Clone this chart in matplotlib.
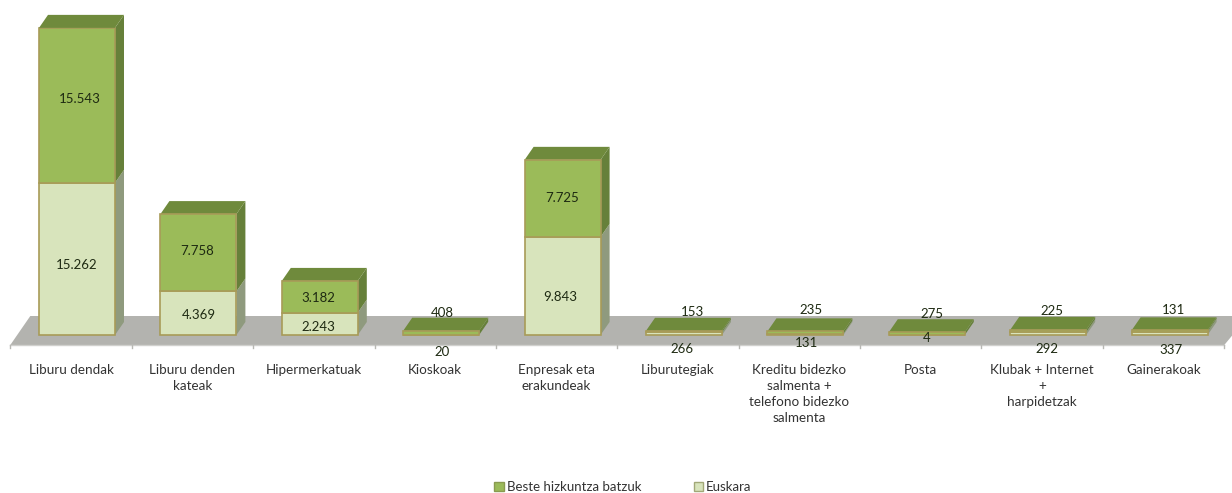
import matplotlib
matplotlib.use("Agg")
import matplotlib.pyplot as plt
from matplotlib.patches import Patch

categories = ["Liburu dendak", "Liburu denden\nkateak", "Hipermerkatuak", "Kioskoak",
              "Enpresak eta\nerakundeak", "Liburutegiak",
              "Kreditu bidezko\nsalmenta +\ntelefono bidezko\nsalmenta", "Posta",
              "Klubak + Internet\n+\nharpidetzak", "Gainerakoak"]
euskara = [15262, 4369, 2243, 20, 9843, 266, 131, 4, 292, 337]
beste = [15543, 7758, 3182, 408, 7725, 153, 235, 275, 225, 131]

# label nudges in pixels (dx, dy) relative to default placement
nudge_beste = [(3, -6), (-1, -2), (-1, 1), (1, 1), (0, 0), (8, 0), (6, -2), (5, 2), (4, -1), (4, -2)]
nudge_eus = [(0, 6), (0, 2), (-1, 3), (1, 3), (-2, 11), (-2, 0), (1, -6), (0, -11), (-1, 0), (1, 1)]

W, H = 1232, 493
PX_X = 121.4      # px per category
PX_Y = 0.00997    # px per unit
X0, Y0 = 71, 335  # px of category 0 and of value 0
DX, DY = 9, 13    # 3D depth
SHIFT, BAR = 6, 76

plt.rcParams["font.family"] = ["Lato", "DejaVu Sans"]
fig = plt.figure(figsize=(W / 100, H / 100), dpi=100)
ax = fig.add_axes([0, 0, 1, 1])
ax.set_xlim(-X0 / PX_X, (W - X0) / PX_X)
ax.set_ylim(-(H - Y0) / PX_Y, Y0 / PX_Y)
ax.axis("off")

dx, dy = DX / PX_X, DY / PX_Y
shift, bw = SHIFT / PX_X, BAR / PX_X
nudge = lambda x, y, n: (x + n[0] / PX_X, y - n[1] / PX_Y)

# floor
fy0, fy1 = -10 / PX_Y, 19 / PX_Y
xl, xr = -0.5, 9.5
skew = 20 / PX_X
ax.fill([xl, xl + skew, xr + skew * 1.2, xr], [fy0, fy1, fy1, fy0], color="#b3b3af", lw=0, zorder=1)
ax.plot([xl, xr], [fy0, fy0], color="#d0d0cd", lw=1, zorder=1)
for k in range(11):
    ax.plot([xl + k, xl + k], [fy0, fy0 - 3 / PX_Y], color="#b8b8b4", lw=1, zorder=1)

EDGE = "#a89b58"
def bar_3d(i, b, h, front, side, z):
    l = i + shift - bw / 2
    r = i + shift + bw / 2
    ax.fill([r, r + dx, r + dx, r], [b, b + dy, b + h + dy, b + h], color=side, lw=0, zorder=z)
    ax.fill([l, r, r, l], [b, b, b + h, b + h], facecolor=front, edgecolor=EDGE, lw=1.2, zorder=z + 1)

for i in range(len(categories)):
    e, o = euskara[i], beste[i]
    bar_3d(i, 0, e, "#d8e4bc", "#8f9a7e", 2 + 2 * i / 100)
    bar_3d(i, e, o, "#9bbb59", "#66803a", 3 + 2 * i / 100)
    l = i + shift - bw / 2
    r = i + shift + bw / 2
    t = e + o
    ax.fill([l, r, r + dx, l + dx], [t, t, t + dy, t + dy], color="#6f8a3c", lw=0, zorder=4)
    # data labels
    fmt = lambda v: f"{v:,}".replace(",", ".")
    big = o > 1000
    xc = i + shift
    if big:
        po = (xc, e + o / 2)
        pe = (xc, e / 2)
    else:
        po = (xc, 23 / PX_Y)
        pe = (xc, -14 / PX_Y)
    ax.text(*nudge(*po, nudge_beste[i]), fmt(o), ha="center", va="center", fontsize=9.5, color="#1e2a12", zorder=6)
    ax.text(*nudge(*pe, nudge_eus[i]), fmt(e), ha="center", va="center", fontsize=9.5, color="#1e2a12", zorder=6)
    # category labels
    ax.text(i, -28.5 / PX_Y, categories[i], ha="center", va="top", fontsize=9.7,
            color="#333333", linespacing=1.42, zorder=6)

ax.legend(handles=[Patch(facecolor="#9bbb59", edgecolor="#8a9a50", label="Beste hizkuntza batzuk"),
                   Patch(facecolor="#d8e4bc", edgecolor="#a2a878", label="Euskara")],
          ncol=2, frameon=False, loc="center", bbox_to_anchor=(623 / W, 1 - 487 / H),
          fontsize=9.5, handlelength=0.72, handleheight=0.72, handletextpad=0.2,
          columnspacing=4.0, labelcolor="#333333")

fig.savefig("out.png", dpi=100, facecolor="white")
